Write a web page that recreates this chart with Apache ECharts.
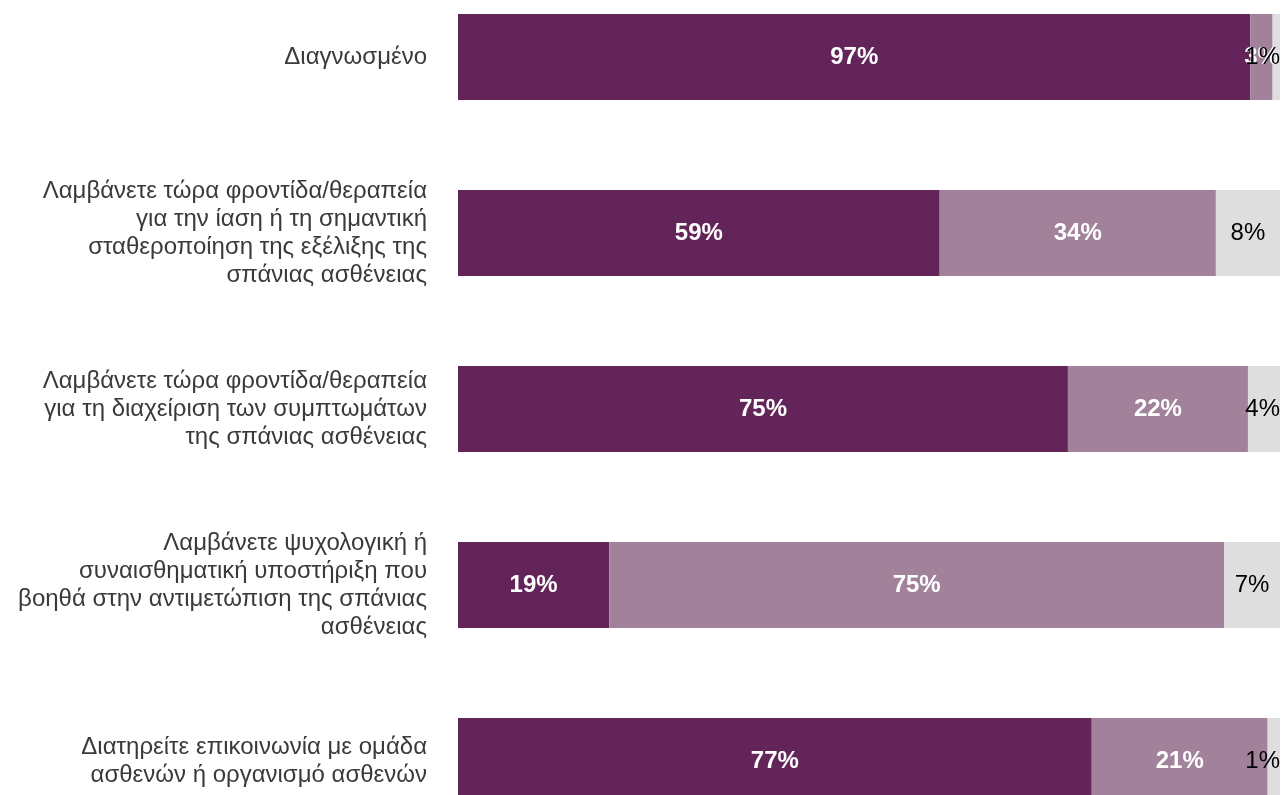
<!DOCTYPE html>
<html>
<head>
<meta charset="utf-8">
<script src="https://cdn.jsdelivr.net/npm/echarts@6/dist/echarts.min.js"></script>
<style>
html,body{margin:0;padding:0;background:#fff;overflow:hidden;width:1284px;height:795px;}
#chart{position:absolute;left:0;top:-31px;width:1284px;height:880px;}
</style>
</head>
<body>
<div id="chart"></div>
<script>
var categories = [
  "Διαγνωσμένο",
  "Λαμβάνετε τώρα φροντίδα/θεραπεία\nγια την ίαση ή τη σημαντική\nσταθεροποίηση της εξέλιξης της\nσπάνιας ασθένειας",
  "Λαμβάνετε τώρα φροντίδα/θεραπεία\nγια τη διαχείριση των συμπτωμάτων\nτης σπάνιας ασθένειας",
  "Λαμβάνετε ψυχολογική ή\nσυναισθηματική υποστήριξη που\nβοηθά στην αντιμετώπιση της σπάνιας\nασθένειας",
  "Διατηρείτε επικοινωνία με ομάδα\nασθενών ή οργανισμό ασθενών"
];
// measured segment shares (%)
var seriesA = [96.4, 58.6, 74.2, 18.4, 77.1];
var seriesB = [2.7, 33.6, 21.9, 74.8, 21.4];
var seriesC = [0.9, 7.8, 3.9, 6.8, 1.5];
// printed labels
var labelsA = ["97%", "59%", "75%", "19%", "77%"];
var labelsB = ["3%", "34%", "22%", "75%", "21%"];
var labelsC = ["1%", "8%", "4%", "7%", "1%"];

var chart = echarts.init(document.getElementById('chart'), null, {renderer: 'canvas'});
function mk(name, data, labels, color, labelColor, bold) {
  return {
    name: name,
    type: 'bar',
    stack: 'total',
    barWidth: 86,
    data: data,
    itemStyle: {color: color},
    label: {
      show: true,
      position: 'inside',
      color: labelColor,
      fontSize: 24,
      fontWeight: bold ? 'bold' : 'normal',
      fontFamily: 'Liberation Sans, Arial, sans-serif',
      formatter: function (p) { return labels[p.dataIndex]; }
    },
    labelLayout: function (p) {
      var r = p.labelRect;
      if (r.x + r.width > 1280) {
        return {x: 1280 - r.width, y: r.y, align: 'left', verticalAlign: 'top'};
      }
      return {};
    }
  };
}
chart.setOption({
  animation: false,
  grid: {left: 458, right: 4, top: 0, bottom: 0},
  xAxis: {type: 'value', min: 0, max: 100, show: false},
  yAxis: {
    type: 'category',
    data: categories,
    inverse: true,
    axisLine: {show: false},
    axisTick: {show: false},
    axisLabel: {
      margin: 31,
      fontSize: 24,
      lineHeight: 28,
      color: '#3a3a3a',
      align: 'right',
      fontFamily: 'Liberation Sans, Arial, sans-serif'
    }
  },
  series: [
    mk('A', seriesA, labelsA, '#632559', '#ffffff', true),
    mk('B', seriesB, labelsB, '#a2829b', '#ffffff', true),
    mk('C', seriesC, labelsC, '#dedede', '#000000', false)
  ]
});
</script>
</body>
</html>
